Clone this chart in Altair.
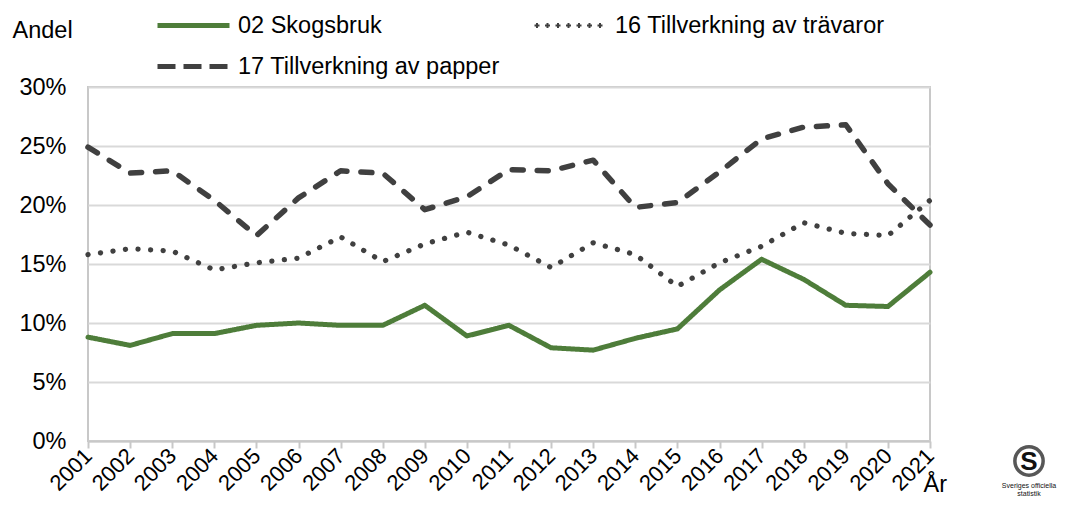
import altair as alt
import pandas as pd

years = list(range(2001, 2022))
series_names = ["02 Skogsbruk", "16 Tillverkning av trävaror", "17 Tillverkning av papper"]
skogsbruk = [8.8, 8.1, 9.1, 9.1, 9.8, 10.0, 9.8, 9.8, 11.5, 8.9, 9.8,
             7.9, 7.7, 8.7, 9.5, 12.8, 15.4, 13.7, 11.5, 11.4, 14.3]
travaror = [15.8, 16.3, 16.1, 14.5, 15.1, 15.5, 17.3, 15.2, 16.7, 17.7, 16.6,
            14.7, 16.8, 15.8, 13.1, 15.1, 16.5, 18.5, 17.6, 17.4, 20.4]
papper = [24.9, 22.7, 22.9, 20.4, 17.4, 20.6, 22.9, 22.7, 19.6, 20.7, 23.0,
          22.9, 23.8, 19.8, 20.2, 22.8, 25.6, 26.6, 26.8, 21.8, 18.3]
y_ticks = [0, 5, 10, 15, 20, 25, 30]

rows = []
for name, vals in zip(series_names, [skogsbruk, travaror, papper]):
    for yr, v in zip(years, vals):
        rows.append({"Serie": name, "År": yr, "Andel": v})
df = pd.DataFrame(rows)

FONT = "Liberation Sans"
FS = 23.5

# legend symbol shapes: symbol size 900 -> unit = 15 px, left edge of symbol at unit -1
SYM = 900
UNIT = 15.0


def u(px):
    return px / UNIT - 1


solid_path = f"M{u(0):.4f},0H{u(72):.4f}"
dash_path = "".join(f"M{u(a):.4f},0H{u(b):.4f}" for a, b in [(0, 18), (26, 44), (52, 70)])
dot_px = [2.5, 13, 23.5, 34, 44.5, 55, 65.5]
dot_path = "".join(
    f"M{u(c - 1):.4f},0H{u(c + 1):.4f}M{u(c):.4f},{-1 / UNIT:.4f}V{1 / UNIT:.4f}" for c in dot_px
)

color_domain = series_names
color_range = ["#4e7d3a", "#404040", "#404040"]

x_enc = alt.X("År:Q",
              scale=alt.Scale(domain=[2001, 2021], nice=False, zero=False),
              axis=alt.Axis(values=years, format="d", labelAngle=-45, labelAlign="right",
                            labelBaseline="middle", labelPadding=4, tickSize=7,
                            tickColor="#c8c8c8", tickWidth=2, domainColor="#c8c8c8",
                            domainWidth=2, grid=False, labelFont=FONT, labelFontSize=22,
                            labelColor="#000000", labelOverlap=False,
                            title="År", titleFont=FONT, titleFontSize=FS,
                            titleFontWeight="normal", titleColor="#000000",
                            titleAngle=0, titleAlign="left", titleBaseline="alphabetic",
                            titleX=835, titleY=50))
y_enc = alt.Y("Andel:Q",
              scale=alt.Scale(domain=[0, 30], nice=False),
              axis=alt.Axis(values=y_ticks, labelExpr="datum.value + '%'", ticks=False,
                            domain=False, labelPadding=22, gridColor="#d9d9d9", gridWidth=2,
                            labelFont=FONT, labelFontSize=FS, labelColor="#000000",
                            title="Andel", titleFont=FONT, titleFontSize=FS,
                            titleFontWeight="normal", titleColor="#000000",
                            titleAngle=0, titleAlign="left", titleBaseline="alphabetic",
                            titleX=-76, titleY=-50))

lines = alt.Chart(df).mark_line(strokeCap="round", strokeJoin="round").encode(
    x=x_enc,
    y=y_enc,
    color=alt.Color("Serie:N", scale=alt.Scale(domain=color_domain, range=color_range),
                    legend=None),
    strokeDash=alt.StrokeDash("Serie:N",
                              scale=alt.Scale(domain=series_names,
                                              range=[[1, 0], [0.1, 12.5], [11, 14]]),
                              legend=None),
    strokeWidth=alt.StrokeWidth("Serie:N",
                                scale=alt.Scale(domain=series_names, range=[5, 5.5, 5]),
                                legend=None),
)

legend_pts = alt.Chart(df).mark_point(filled=False, strokeWidth=5, opacity=1).encode(
    x=x_enc,
    y=y_enc,
    color=alt.Color("Serie:N", scale=alt.Scale(domain=color_domain, range=color_range),
                    legend=alt.Legend(title=None)),
    shape=alt.Shape("Serie:N",
                    scale=alt.Scale(domain=series_names,
                                    range=[solid_path, dot_path, dash_path]),
                    legend=alt.Legend(title=None)),
).transform_filter("datum['År'] < 0")

logo_data = alt.Data(values=[{"a": 1}])
LX = 941
logo_circle = alt.Chart(logo_data).mark_point(shape="circle", filled=False, size=800,
                                              strokeWidth=3.5, color="#111111").encode(
    x=alt.value(LX), y=alt.value(374))
logo_s = alt.Chart(logo_data).mark_text(text="S", font=FONT, fontSize=26, fontWeight="bold",
                                        color="#111111").encode(x=alt.value(LX), y=alt.value(375))
logo_t1 = alt.Chart(logo_data).mark_text(text="Sveriges officiella", font=FONT, fontSize=7,
                                         color="#111111").encode(x=alt.value(LX), y=alt.value(399))
logo_t2 = alt.Chart(logo_data).mark_text(text="statistik", font=FONT, fontSize=7,
                                         color="#111111").encode(x=alt.value(LX), y=alt.value(407))

chart = alt.layer(lines, legend_pts, logo_circle, logo_s, logo_t1, logo_t2).resolve_scale(
    color="independent", shape="independent"
).resolve_legend(color="independent", shape="independent").properties(
    width=842, height=354,
    autosize=alt.AutoSizeParams(type="none"),
    padding={"left": 80, "top": 79, "right": 127, "bottom": 57},
).configure_view(stroke="#c8c8c8", strokeWidth=2).configure_legend(
    orient="none", legendX=67, legendY=-79, direction="horizontal", columns=2,
    columnPadding=26, rowPadding=12, symbolSize=SYM, symbolStrokeWidth=5,
    symbolOpacity=1,
    labelFont=FONT, labelFontSize=FS, labelColor="#000000", labelLimit=400, labelOffset=48,
)

chart.save("out.html", embed_options={"renderer": "svg", "actions": False})
